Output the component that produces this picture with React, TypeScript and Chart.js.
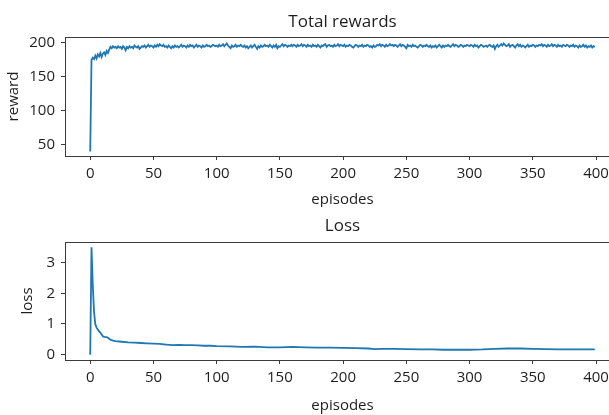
import React, { useEffect, useRef } from "react";
import { Chart, registerables } from "chart.js";

Chart.register(...registerables);

const rewardValues: number[] = [
  40,175,178,176,181,177,183,180,185,179,184,186,182,188,185,190,194,192,195,193,
  194,192,195,193,194,191,195,193,189,194,192,195,193,194,192,196,194,193,195,191,
  193,195,194,196,193,195,197,194,196,195,193,196,194,197,195,198,196,195,197,194,
  195,193,196,194,192,195,193,196,194,195,193,195,197,194,196,195,193,196,194,197,
  195,196,193,195,197,194,196,195,193,196,194,195,197,195,196,194,195,197,196,195,
  196,194,197,195,196,198,195,197,199,196,194,192,196,194,195,197,194,196,195,197,
  195,194,196,193,195,192,194,196,193,195,197,194,191,195,193,196,194,195,197,195,
  196,194,197,195,193,196,194,197,192,195,194,196,198,195,197,196,194,196,195,197,
  195,197,196,194,197,195,196,198,195,197,196,194,197,195,196,194,197,195,196,194,
  197,195,193,196,195,197,198,194,196,197,195,196,194,197,195,196,198,195,197,196,
  195,197,194,196,195,197,196,194,193,195,197,196,194,196,195,197,194,196,195,197,
  196,194,195,193,196,194,195,197,196,198,195,197,196,194,197,195,196,198,196,197,
  195,197,196,194,196,198,195,197,196,194,192,197,195,196,194,197,195,196,194,193,
  195,197,196,194,196,195,197,195,194,196,193,195,194,196,193,195,197,195,193,196,
  194,196,195,197,195,194,196,198,195,197,196,194,195,197,196,194,196,195,197,196,
  195,197,196,194,197,195,196,193,195,197,196,194,195,196,194,196,197,195,194,196,
  191,195,197,194,196,198,196,199,197,195,196,198,194,196,197,195,193,196,198,195,
  197,194,196,195,193,195,197,194,196,195,197,196,194,196,195,197,196,198,195,197,
  196,194,197,195,196,198,195,197,196,194,197,195,196,194,197,196,195,197,196,194,
  196,195,197,194,196,195,193,196,194,195,197,194,196,193,195,194,196,193,195,194,
];

const lossEpisodes: number[] = [
  0,1,2,3,4,5,6,7,8,9,10,11,12,13,14,15,16,17,18,19,20,25,30,35,40,45,50,55,60,65,70,75,80,85,90,95,
  100,110,120,130,140,150,160,170,180,190,200,210,220,225,230,240,250,260,270,280,290,300,310,320,330,
  340,350,360,370,380,390,399,
];
const lossValues: number[] = [
  0.0,3.5,2.3,1.4,1.0,0.88,0.82,0.76,0.72,0.66,0.6,0.58,0.57,0.57,0.55,0.52,0.49,0.47,0.46,0.45,0.44,
  0.42,0.40,0.39,0.38,0.37,0.36,0.35,0.33,0.31,0.32,0.31,0.31,0.30,0.29,0.29,
  0.28,0.27,0.25,0.26,0.24,0.24,0.25,0.24,0.23,0.23,0.22,0.21,0.20,0.18,0.19,0.19,0.18,0.17,0.17,0.16,
  0.16,0.16,0.17,0.19,0.2,0.2,0.19,0.18,0.17,0.17,0.17,0.17,
];

const xTicks: number[] = [0, 50, 100, 150, 200, 250, 300, 350, 400];
const rewardTicks: number[] = [50, 100, 150, 200];
const lossTicks: number[] = [0, 1, 2, 3];

const FONT = "'Open Sans', 'DejaVu Sans', sans-serif";
const TEXT = "#1e1e1e";
const AXIS = "#3a3a3a";
const LINE = "#1f77b4";

type Spec = {
  title: string;
  titleY: number;
  points: { x: number; y: number }[];
  yMin: number;
  yMax: number;
  yTicks: number[];
  yLabel: string;
  yTitlePad: number;
  padTop: number;
  xAxisHeight: number;
  xTitlePad: number;
};

function makeChart(canvas: HTMLCanvasElement, s: Spec) {
  const framePlugin = {
    id: "frameAndTitle",
    afterDraw(chart: any) {
      const { ctx, chartArea } = chart;
      ctx.save();
      ctx.strokeStyle = AXIS;
      ctx.lineWidth = 1;
      ctx.strokeRect(
        Math.round(chartArea.left) + 0.5,
        Math.round(chartArea.top) + 0.5,
        Math.round(chartArea.right - chartArea.left),
        Math.round(chartArea.bottom - chartArea.top)
      );
      ctx.fillStyle = TEXT;
      ctx.font = `17px ${FONT}`;
      ctx.textAlign = "center";
      ctx.textBaseline = "middle";
      ctx.fillText(s.title, (chartArea.left + chartArea.right) / 2, s.titleY);
      ctx.restore();
    },
  };
  const tickFont = { family: FONT, size: 15 };
  return new Chart(canvas, {
    type: "line",
    data: {
      datasets: [
        {
          data: s.points,
          borderColor: LINE,
          borderWidth: 1.8,
          pointRadius: 0,
          tension: 0,
          fill: false,
        },
      ],
    },
    options: {
      animation: false,
      responsive: false,
      parsing: false as any,
      layout: { padding: { top: s.padTop, left: 0, right: 0, bottom: 0 } },
      plugins: { legend: { display: false }, tooltip: { enabled: false }, title: { display: false } },
      scales: {
        x: {
          type: "linear",
          min: -19.95,
          max: 418.95,
          afterBuildTicks: (axis: any) => {
            axis.ticks = xTicks.map((v) => ({ value: v }));
          },
          afterFit: (axis: any) => {
            axis.height = s.xAxisHeight;
          },
          grid: { drawOnChartArea: false, drawTicks: true, tickLength: 4, color: AXIS, tickColor: AXIS },
          border: { display: true, color: AXIS, width: 1 },
          ticks: { font: tickFont, color: TEXT, padding: 5, maxRotation: 0, autoSkip: false },
          title: { display: true, text: "episodes", font: tickFont, color: TEXT, padding: { top: 0, bottom: s.xTitlePad } },
        },
        y: {
          type: "linear",
          min: s.yMin,
          max: s.yMax,
          afterBuildTicks: (axis: any) => {
            axis.ticks = s.yTicks.map((v) => ({ value: v }));
          },
          afterFit: (axis: any) => {
            axis.width = 65;
          },
          grid: { drawOnChartArea: false, drawTicks: true, tickLength: 4, color: AXIS, tickColor: AXIS },
          border: { display: true, color: AXIS, width: 1 },
          ticks: { font: tickFont, color: TEXT, padding: 6, autoSkip: false },
          title: { display: true, text: s.yLabel, font: tickFont, color: TEXT, padding: { top: s.yTitlePad, bottom: 0 } },
        },
      },
    },
    plugins: [framePlugin],
  } as any);
}

export default function App() {
  const topRef = useRef<HTMLCanvasElement>(null);
  const botRef = useRef<HTMLCanvasElement>(null);

  useEffect(() => {
    const rewardPoints = rewardValues.map((v, i) => ({ x: i, y: v }));
    const lossPoints = lossEpisodes.map((e, i) => ({ x: e, y: lossValues[i] }));
    const c1 = makeChart(topRef.current!, {
      title: "Total rewards",
      titleY: 22,
      points: rewardPoints,
      yMin: 33.5,
      yMax: 208.5,
      yTicks: rewardTicks,
      yLabel: "reward",
      yTitlePad: 5,
      padTop: 37,
      xAxisHeight: 51,
      xTitlePad: -2,
    });
    const c2 = makeChart(botRef.current!, {
      title: "Loss",
      titleY: 19,
      points: lossPoints,
      yMin: -0.175,
      yMax: 3.675,
      yTicks: lossTicks,
      yLabel: "loss",
      yTitlePad: 19,
      padTop: 35,
      xAxisHeight: 55,
      xTitlePad: 0,
    });
    return () => {
      c1.destroy();
      c2.destroy();
    };
  }, []);

  return (
    <div
      style={{
        position: "absolute",
        left: 0,
        top: 0,
        width: 609,
        height: 415,
        overflow: "hidden",
        background: "#fff",
      }}
    >
      <canvas ref={topRef} width={620} height={207} style={{ position: "absolute", left: 0, top: 0, width: 620, height: 207 }} />
      <canvas ref={botRef} width={620} height={208} style={{ position: "absolute", left: 0, top: 207, width: 620, height: 208 }} />
    </div>
  );
}
